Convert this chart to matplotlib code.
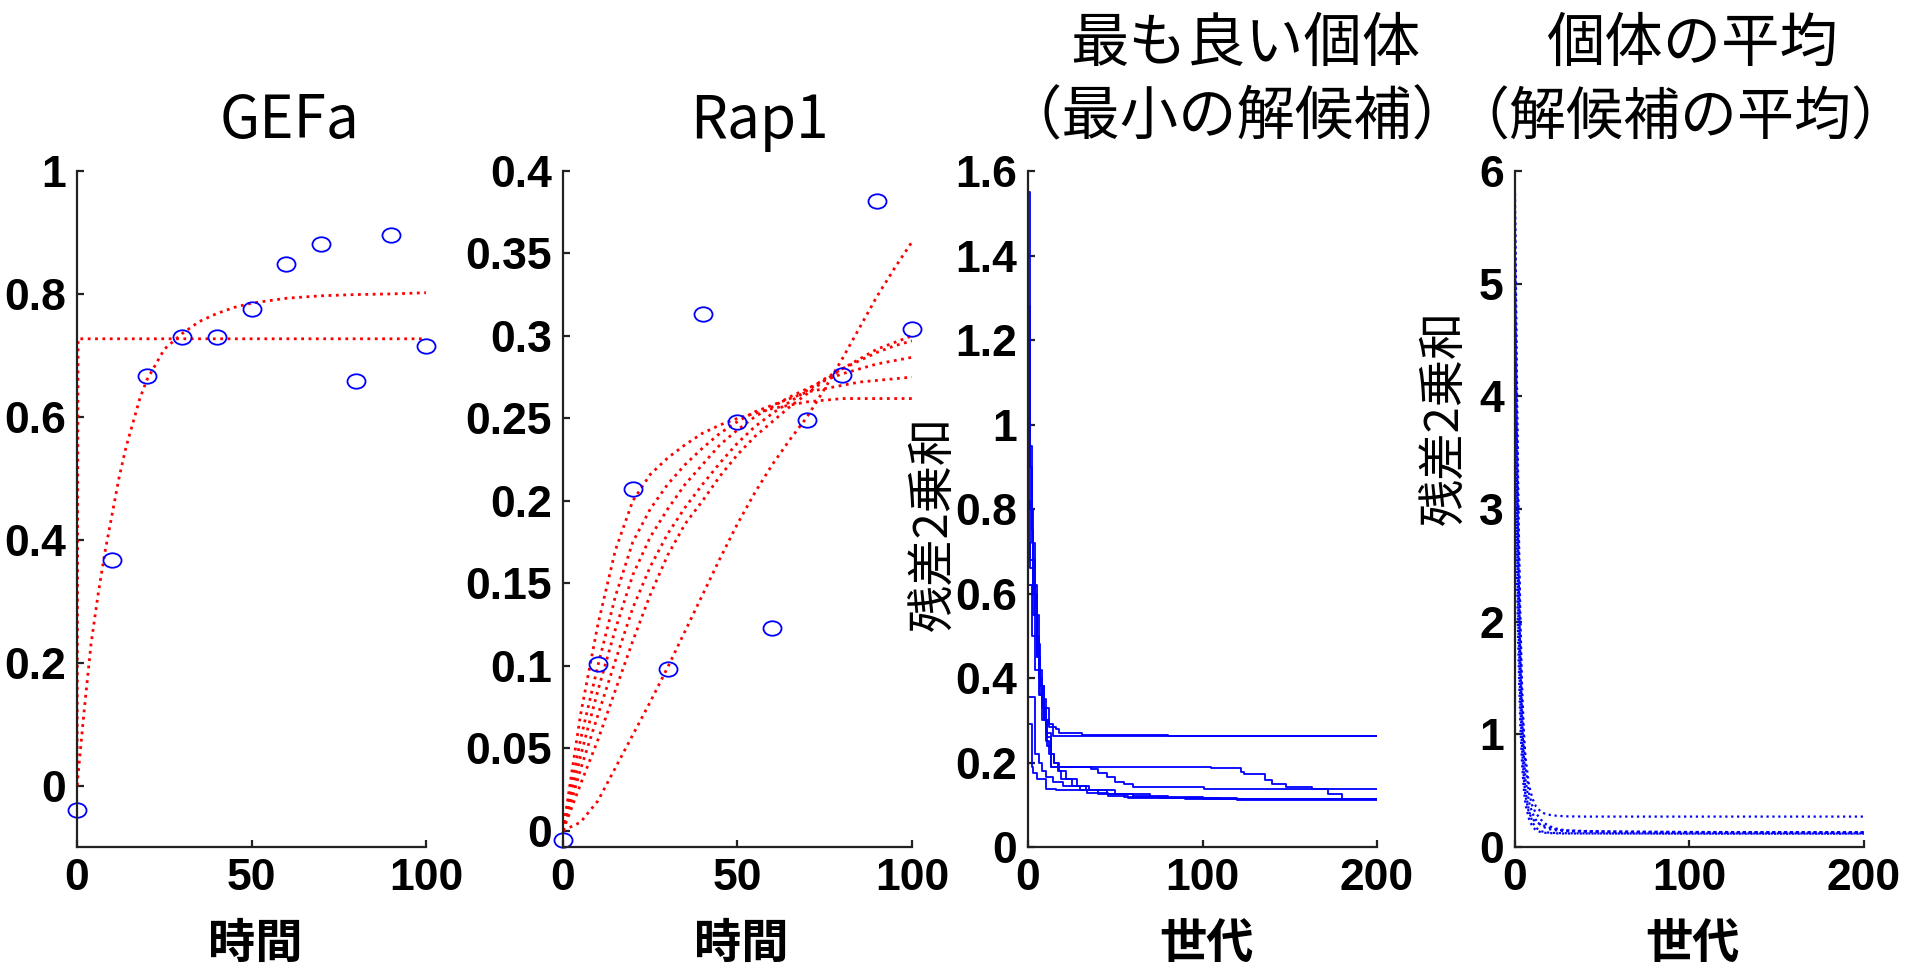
import matplotlib
matplotlib.use("Agg")
import matplotlib.pyplot as plt
from matplotlib.path import Path
from matplotlib.transforms import Affine2D

plt.rcParams['font.family'] = ['Noto Sans CJK JP', 'DejaVu Sans']

# --- GEFa: measured points and fitted time courses
gefa_t = [0, 10, 20, 30, 40, 50, 60, 70, 80, 90, 100]
gefa_obs = [-0.039, 0.367, 0.667, 0.730, 0.730, 0.775, 0.849, 0.881, 0.658, 0.896, 0.716]
gefa_fit_t = [0, 2, 4, 6, 8, 10, 12, 14, 16, 18, 20, 25, 30, 35, 40, 45, 50, 60, 70, 80, 90, 100]
gefa_fit_a = [0.0, 0.12, 0.23, 0.31, 0.38, 0.44, 0.50, 0.55, 0.59, 0.63, 0.66, 0.71,
              0.735, 0.755, 0.768, 0.778, 0.785, 0.793, 0.797, 0.799, 0.800, 0.802]
gefa_fit_b_t = [0, 0.3, 100]
gefa_fit_b = [0.0, 0.727, 0.727]

# --- Rap1
rap1_t = [0, 10, 20, 30, 40, 50, 60, 70, 80, 90, 100]
rap1_obs = [-0.006, 0.101, 0.207, 0.098, 0.3135, 0.248, 0.123, 0.249, 0.276, 0.382, 0.304]
rap1_fit_t = [0, 5, 10, 15, 20, 25, 30, 35, 40, 45, 50, 55, 60, 65, 70, 75, 80, 85, 90, 95, 100]
rap1_fits = [
    [0, 0.005, 0.018, 0.038, 0.058, 0.078, 0.099, 0.121, 0.143, 0.165, 0.186,
     0.205, 0.222, 0.237, 0.251, 0.268, 0.286, 0.305, 0.324, 0.341, 0.357],
    [0, 0.07, 0.125, 0.17, 0.2, 0.216, 0.226, 0.234, 0.241, 0.246, 0.25,
     0.253, 0.256, 0.258, 0.26, 0.261, 0.262, 0.262, 0.262, 0.262, 0.262],
    [0, 0.055, 0.10, 0.142, 0.175, 0.195, 0.21, 0.222, 0.232, 0.241, 0.248,
     0.254, 0.258, 0.262, 0.266, 0.268, 0.27, 0.272, 0.273, 0.274, 0.275],
    [0, 0.045, 0.085, 0.122, 0.155, 0.178, 0.195, 0.21, 0.222, 0.234, 0.243,
     0.251, 0.257, 0.263, 0.268, 0.273, 0.277, 0.28, 0.283, 0.285, 0.287],
    [0, 0.037, 0.07, 0.103, 0.135, 0.16, 0.18, 0.196, 0.21, 0.223, 0.235,
     0.245, 0.253, 0.26, 0.267, 0.274, 0.28, 0.285, 0.29, 0.294, 0.297],
    [0, 0.028, 0.055, 0.085, 0.115, 0.143, 0.167, 0.186, 0.2, 0.215, 0.228,
     0.239, 0.248, 0.257, 0.265, 0.273, 0.28, 0.286, 0.292, 0.296, 0.30],
]

# --- best individual per generation (step curves)
best_runs = [
    ([0, 1, 2, 3, 5, 7, 9, 12, 14, 200],
     [1.55, 0.9, 0.75, 0.62, 0.45, 0.38, 0.33, 0.29, 0.262, 0.262]),
    ([0, 1, 3, 4, 6, 8, 10, 12, 16, 18, 31, 80, 200],
     [1.28, 0.8, 0.68, 0.5, 0.42, 0.35, 0.30, 0.285, 0.28, 0.27, 0.266, 0.262, 0.262]),
    ([0, 2, 4, 6, 8, 10, 13, 36, 40, 45, 50, 55, 60, 101, 200],
     [0.95, 0.72, 0.55, 0.40, 0.33, 0.27, 0.19, 0.185, 0.175, 0.165, 0.155, 0.148, 0.141, 0.137, 0.137]),
    ([0, 1, 3, 5, 7, 9, 11, 13, 105, 122, 124, 136, 140, 148, 163, 172, 180, 200],
     [0.82, 0.68, 0.6, 0.48, 0.38, 0.3, 0.24, 0.19, 0.186, 0.178, 0.172, 0.158, 0.15, 0.143, 0.137, 0.125, 0.113, 0.113]),
    ([0, 2, 3, 5, 10, 16, 34, 46, 57, 90, 200],
     [0.29, 0.19, 0.175, 0.162, 0.137, 0.134, 0.128, 0.12, 0.117, 0.113, 0.113]),
    ([0, 4, 6, 8, 10, 14, 20, 30, 40, 55, 75, 110, 200],
     [0.355, 0.22, 0.2, 0.18, 0.165, 0.155, 0.145, 0.135, 0.125, 0.118, 0.115, 0.113, 0.113]),
    ([0, 2, 4, 6, 8, 10, 12, 15, 18, 22, 28, 35, 50, 70, 100, 200],
     [0.62, 0.5, 0.42, 0.36, 0.3, 0.25, 0.22, 0.2, 0.18, 0.16, 0.145, 0.135, 0.125, 0.118, 0.113, 0.113]),
    ([0, 1, 3, 5, 7, 9, 11, 13, 15, 17, 19, 25, 33, 45, 60, 80, 120, 200],
     [0.72, 0.66, 0.55, 0.45, 0.36, 0.3, 0.26, 0.22, 0.2, 0.18, 0.16, 0.145, 0.135, 0.125, 0.12, 0.115, 0.112, 0.112]),
]

# --- population mean per generation
mean_gen = [0, 1, 2, 3, 4, 5, 6, 8, 10, 12, 15, 18, 22, 26, 30, 40, 60, 80, 100, 150, 200]
mean_runs = [
    [5.8, 4.3, 3.0, 2.1, 1.45, 1.05, 0.8, 0.55, 0.43, 0.36, 0.31, 0.29, 0.28, 0.275, 0.272, 0.27, 0.27, 0.27, 0.27, 0.27, 0.27],
    [5.6, 4.0, 2.8, 1.9, 1.3, 0.95, 0.72, 0.48, 0.36, 0.3, 0.24, 0.2, 0.17, 0.155, 0.148, 0.142, 0.138, 0.135, 0.133, 0.132, 0.132],
    [5.2, 3.7, 2.5, 1.7, 1.15, 0.82, 0.6, 0.4, 0.3, 0.24, 0.19, 0.165, 0.15, 0.145, 0.14, 0.135, 0.13, 0.128, 0.127, 0.126, 0.125],
    [4.8, 3.3, 2.2, 1.5, 1.0, 0.7, 0.5, 0.32, 0.22, 0.17, 0.14, 0.13, 0.125, 0.123, 0.122, 0.121, 0.12, 0.12, 0.12, 0.12, 0.12],
    [4.2, 2.9, 1.95, 1.3, 0.88, 0.62, 0.45, 0.3, 0.25, 0.22, 0.2, 0.18, 0.16, 0.15, 0.145, 0.14, 0.136, 0.134, 0.133, 0.132, 0.131],
    [3.6, 2.5, 1.7, 1.1, 0.75, 0.52, 0.38, 0.25, 0.18, 0.15, 0.13, 0.125, 0.122, 0.12, 0.12, 0.12, 0.12, 0.119, 0.118, 0.118, 0.118],
]

# axis ticks / labels
time_ticks = [0, 50, 100]
gen_ticks = [0, 100, 200]
gefa_yticks = [0, 0.2, 0.4, 0.6, 0.8, 1]
gefa_ylabels = ['0', '0.2', '0.4', '0.6', '0.8', '1']
rap1_yticks = [0, 0.05, 0.1, 0.15, 0.2, 0.25, 0.3, 0.35, 0.4]
rap1_ylabels = ['0', '0.05', '0.1', '0.15', '0.2', '0.25', '0.3', '0.35', '0.4']
best_yticks = [0, 0.2, 0.4, 0.6, 0.8, 1, 1.2, 1.4, 1.6]
best_ylabels = ['0', '0.2', '0.4', '0.6', '0.8', '1', '1.2', '1.4', '1.6']
mean_yticks = [0, 1, 2, 3, 4, 5, 6]
mean_ylabels = ['0', '1', '2', '3', '4', '5', '6']

RED = '#ff0000'
BLUE = '#0000ff'
tick_font = dict(family=['Liberation Sans Narrow', 'Liberation Sans'], weight='bold', size=32)

# slightly wide open circle, like the stretched matlab markers
ellipse = Path.unit_circle().transformed(Affine2D().scale(1.25, 1.0))

fig = plt.figure(figsize=(19.17, 9.69), dpi=100)
bottom, height = 0.1259, 0.6976
lefts = [0.0402, 0.2937, 0.5363, 0.7903]
axes = [fig.add_axes([l, bottom, 0.182, height]) for l in lefts]


def style(ax, xlim, xticks, ylim, yticks, ylabels):
    ax.set_xlim(*xlim)
    ax.set_ylim(*ylim)
    ax.set_xticks(xticks)
    ax.set_xticklabels([str(v) for v in xticks], fontdict=tick_font)
    ax.set_yticks(yticks)
    ax.set_yticklabels(ylabels, fontdict=tick_font)
    for s in ['top', 'right']:
        ax.spines[s].set_visible(False)
    for s in ['left', 'bottom']:
        ax.spines[s].set_linewidth(1.6)
        ax.spines[s].set_color('#222222')
    ax.tick_params(direction='in', length=5, width=1.6, color='#222222')
    ax.tick_params(axis='y', pad=8)
    ax.tick_params(axis='x', pad=8)


ax1, ax2, ax3, ax4 = axes

ax1.plot(gefa_fit_t, gefa_fit_a, ls=':', color=RED, lw=2.0)
ax1.plot(gefa_fit_b_t, gefa_fit_b, ls=':', color=RED, lw=2.0)
ax1.plot(gefa_t, gefa_obs, ls='none', marker=ellipse, ms=13, mfc='none',
         mec=BLUE, mew=1.3, clip_on=False)
style(ax1, (0, 100), time_ticks, (-0.1, 1), gefa_yticks, gefa_ylabels)

for f in rap1_fits:
    ax2.plot(rap1_fit_t, f, ls=':', color=RED, lw=2.0)
ax2.plot(rap1_t, rap1_obs, ls='none', marker=ellipse, ms=13, mfc='none',
         mec=BLUE, mew=1.3, clip_on=False)
style(ax2, (0, 100), time_ticks, (-0.01, 0.4), rap1_yticks, rap1_ylabels)

for g, v in best_runs:
    ax3.plot(g, v, drawstyle='steps-post', color=BLUE, lw=1.3)
style(ax3, (0, 200), gen_ticks, (0, 1.6), best_yticks, best_ylabels)

for m in mean_runs:
    ax4.plot(mean_gen, m, ls=':', color=BLUE, lw=1.6)
style(ax4, (0, 200), gen_ticks, (0, 6), mean_yticks, mean_ylabels)

title_kw = dict(ha='center', va='center', fontsize=42)
ax1.text(0.609, 1.074, 'GEFa', transform=ax1.transAxes, **title_kw)
ax2.text(0.562, 1.074, 'Rap1', transform=ax2.transAxes, **title_kw)
ax3.text(0.622, 1.187, '最も良い個体', transform=ax3.transAxes, **title_kw)
ax3.text(0.60, 1.078, '（最小の解候補）', transform=ax3.transAxes, **title_kw)
ax4.text(0.51, 1.187, '個体の平均', transform=ax4.transAxes, **title_kw)
ax4.text(0.475, 1.078, '（解候補の平均）', transform=ax4.transAxes,
         ha='center', va='center', fontsize=41)

for ax, lab in zip(axes, ['時間', '時間', '世代', '世代']):
    ax.set_xlabel(lab, fontsize=34, fontweight='bold')
    ax.xaxis.set_label_coords(0.51, -0.108)

ax3.set_ylabel('残差2乗和', fontsize=34)
ax3.yaxis.set_label_coords(-0.20, 0.479)
ax4.set_ylabel('残差2乗和', fontsize=34)
ax4.yaxis.set_label_coords(-0.129, 0.635)

fig.savefig('out.png', dpi=100)
